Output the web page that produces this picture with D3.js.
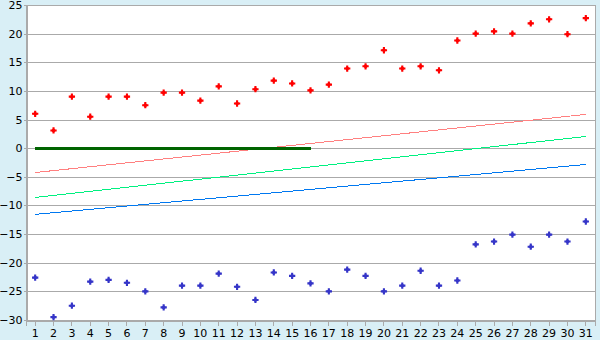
<!DOCTYPE html>
<html>
<head>
<meta charset="utf-8">
<script src="https://cdn.jsdelivr.net/npm/d3@7"></script>
<style>
  body { margin: 0; background: #d9eff6; }
  svg { display: block; font-family: "DejaVu Sans", Verdana, sans-serif; }
</style>
</head>
<body>
<div class="chart"></div>
<script>
var days = d3.range(1, 32);
var yTicks = [-30, -25, -20, -15, -10, -5, 0, 5, 10, 15, 20, 25];

var highs = [6, 3.1, 9, 5.5, 9, 9, 7.5, 9.7, 9.7, 8.3, 10.8, 7.8, 10.3, 11.8, 11.3, 10.1,
             11.1, 13.9, 14.3, 17.1, 13.9, 14.3, 13.6, 18.8, 20, 20.4, 20, 21.8, 22.5, 19.9, 22.7];
var lows = [-22.6, -29.5, -27.5, -23.3, -23, -23.5, -25, -27.8, -24, -24, -21.9, -24.2, -26.5, -21.7,
            -22.3, -23.6, -25, -21.2, -22.3, -25, -24, -21.4, -24, -23.1, -16.8, -16.3, -15.1,
            -17.2, -15.1, -16.3, -12.8];

// straight lines: [first day, last day, start value, end value]
var pinkLine = [1, 31, -4.25, 5.9];
var greenLine = [1, 31, -8.6, 2.05];
var blueLine = [1, 31, -11.55, -2.85];
var zeroLine = [1, 16, 0, 0];

var width = 600, height = 340;
var plotLeft = 26, plotRight = 595, plotTop = 5, plotBottom = 320;

var svg = d3.select(".chart").append("svg")
    .attr("width", width)
    .attr("height", height);

var x = d3.scaleBand().domain(days).range([plotLeft, plotRight]);
var y = d3.scaleLinear().domain([-30, 25]).range([plotBottom, plotTop]);
var cx = function (d) { return x(d) + x.bandwidth() / 2; };

svg.append("rect")
    .attr("x", plotLeft + 0.5).attr("y", plotTop + 0.5)
    .attr("width", plotRight - plotLeft).attr("height", plotBottom - plotTop)
    .attr("fill", "#fff")
    .attr("stroke", "#aaa");

// grid
svg.append("g").selectAll("line")
    .data(yTicks)
    .enter().append("line")
    .attr("x1", plotLeft).attr("x2", plotRight)
    .attr("y1", function (d) { return Math.round(y(d)) + 0.5; })
    .attr("y2", function (d) { return Math.round(y(d)) + 0.5; })
    .attr("stroke", "#aaa");

// axes
var yAxis = svg.append("g")
    .attr("transform", "translate(" + (plotLeft + 0.5) + ",0)")
    .call(d3.axisLeft(y).tickValues(yTicks).tickSize(3).tickPadding(1));

var xAxis = svg.append("g")
    .attr("transform", "translate(0," + (plotBottom + 0.5) + ")")
    .call(d3.axisBottom(x).tickSize(5).tickPadding(4));

[yAxis, xAxis].forEach(function (g) {
    g.selectAll("path, line").attr("stroke", "#aaa").attr("shape-rendering", "crispEdges");
    g.selectAll("text").attr("fill", "#000").style("font-size", "11px")
        .style("font-family", "'DejaVu Sans', Verdana, sans-serif");
});

// lines
function drawLine(spec, color, w) {
    svg.append("line")
        .attr("x1", cx(spec[0])).attr("x2", cx(spec[1]))
        .attr("y1", y(spec[2])).attr("y2", y(spec[3]))
        .attr("stroke", color)
        .attr("stroke-width", w)
        .attr("shape-rendering", "crispEdges");
}
drawLine(pinkLine, "#ff8080", 1);
drawLine(greenLine, "#00f080", 1);
drawLine(blueLine, "#0078f0", 1);
drawLine(zeroLine, "#006400", 3);

// markers: cross with a small diamond in the middle
var cross = d3.symbol().type(d3.symbolCross).size(22);
var diamond = d3.symbol().type(d3.symbolSquare).size(12);

function drawMarkers(values, color) {
    var pts = svg.append("g").selectAll("g")
        .data(values)
        .enter().append("g")
        .attr("transform", function (d, i) { return "translate(" + cx(days[i]) + "," + y(d) + ")"; })
        .attr("fill", color);
    pts.append("path").attr("d", cross);
    pts.append("path").attr("d", diamond).attr("transform", "rotate(45)");
}
drawMarkers(highs, "#ff0000");
drawMarkers(lows, "#3535c8");
</script>
</body>
</html>
